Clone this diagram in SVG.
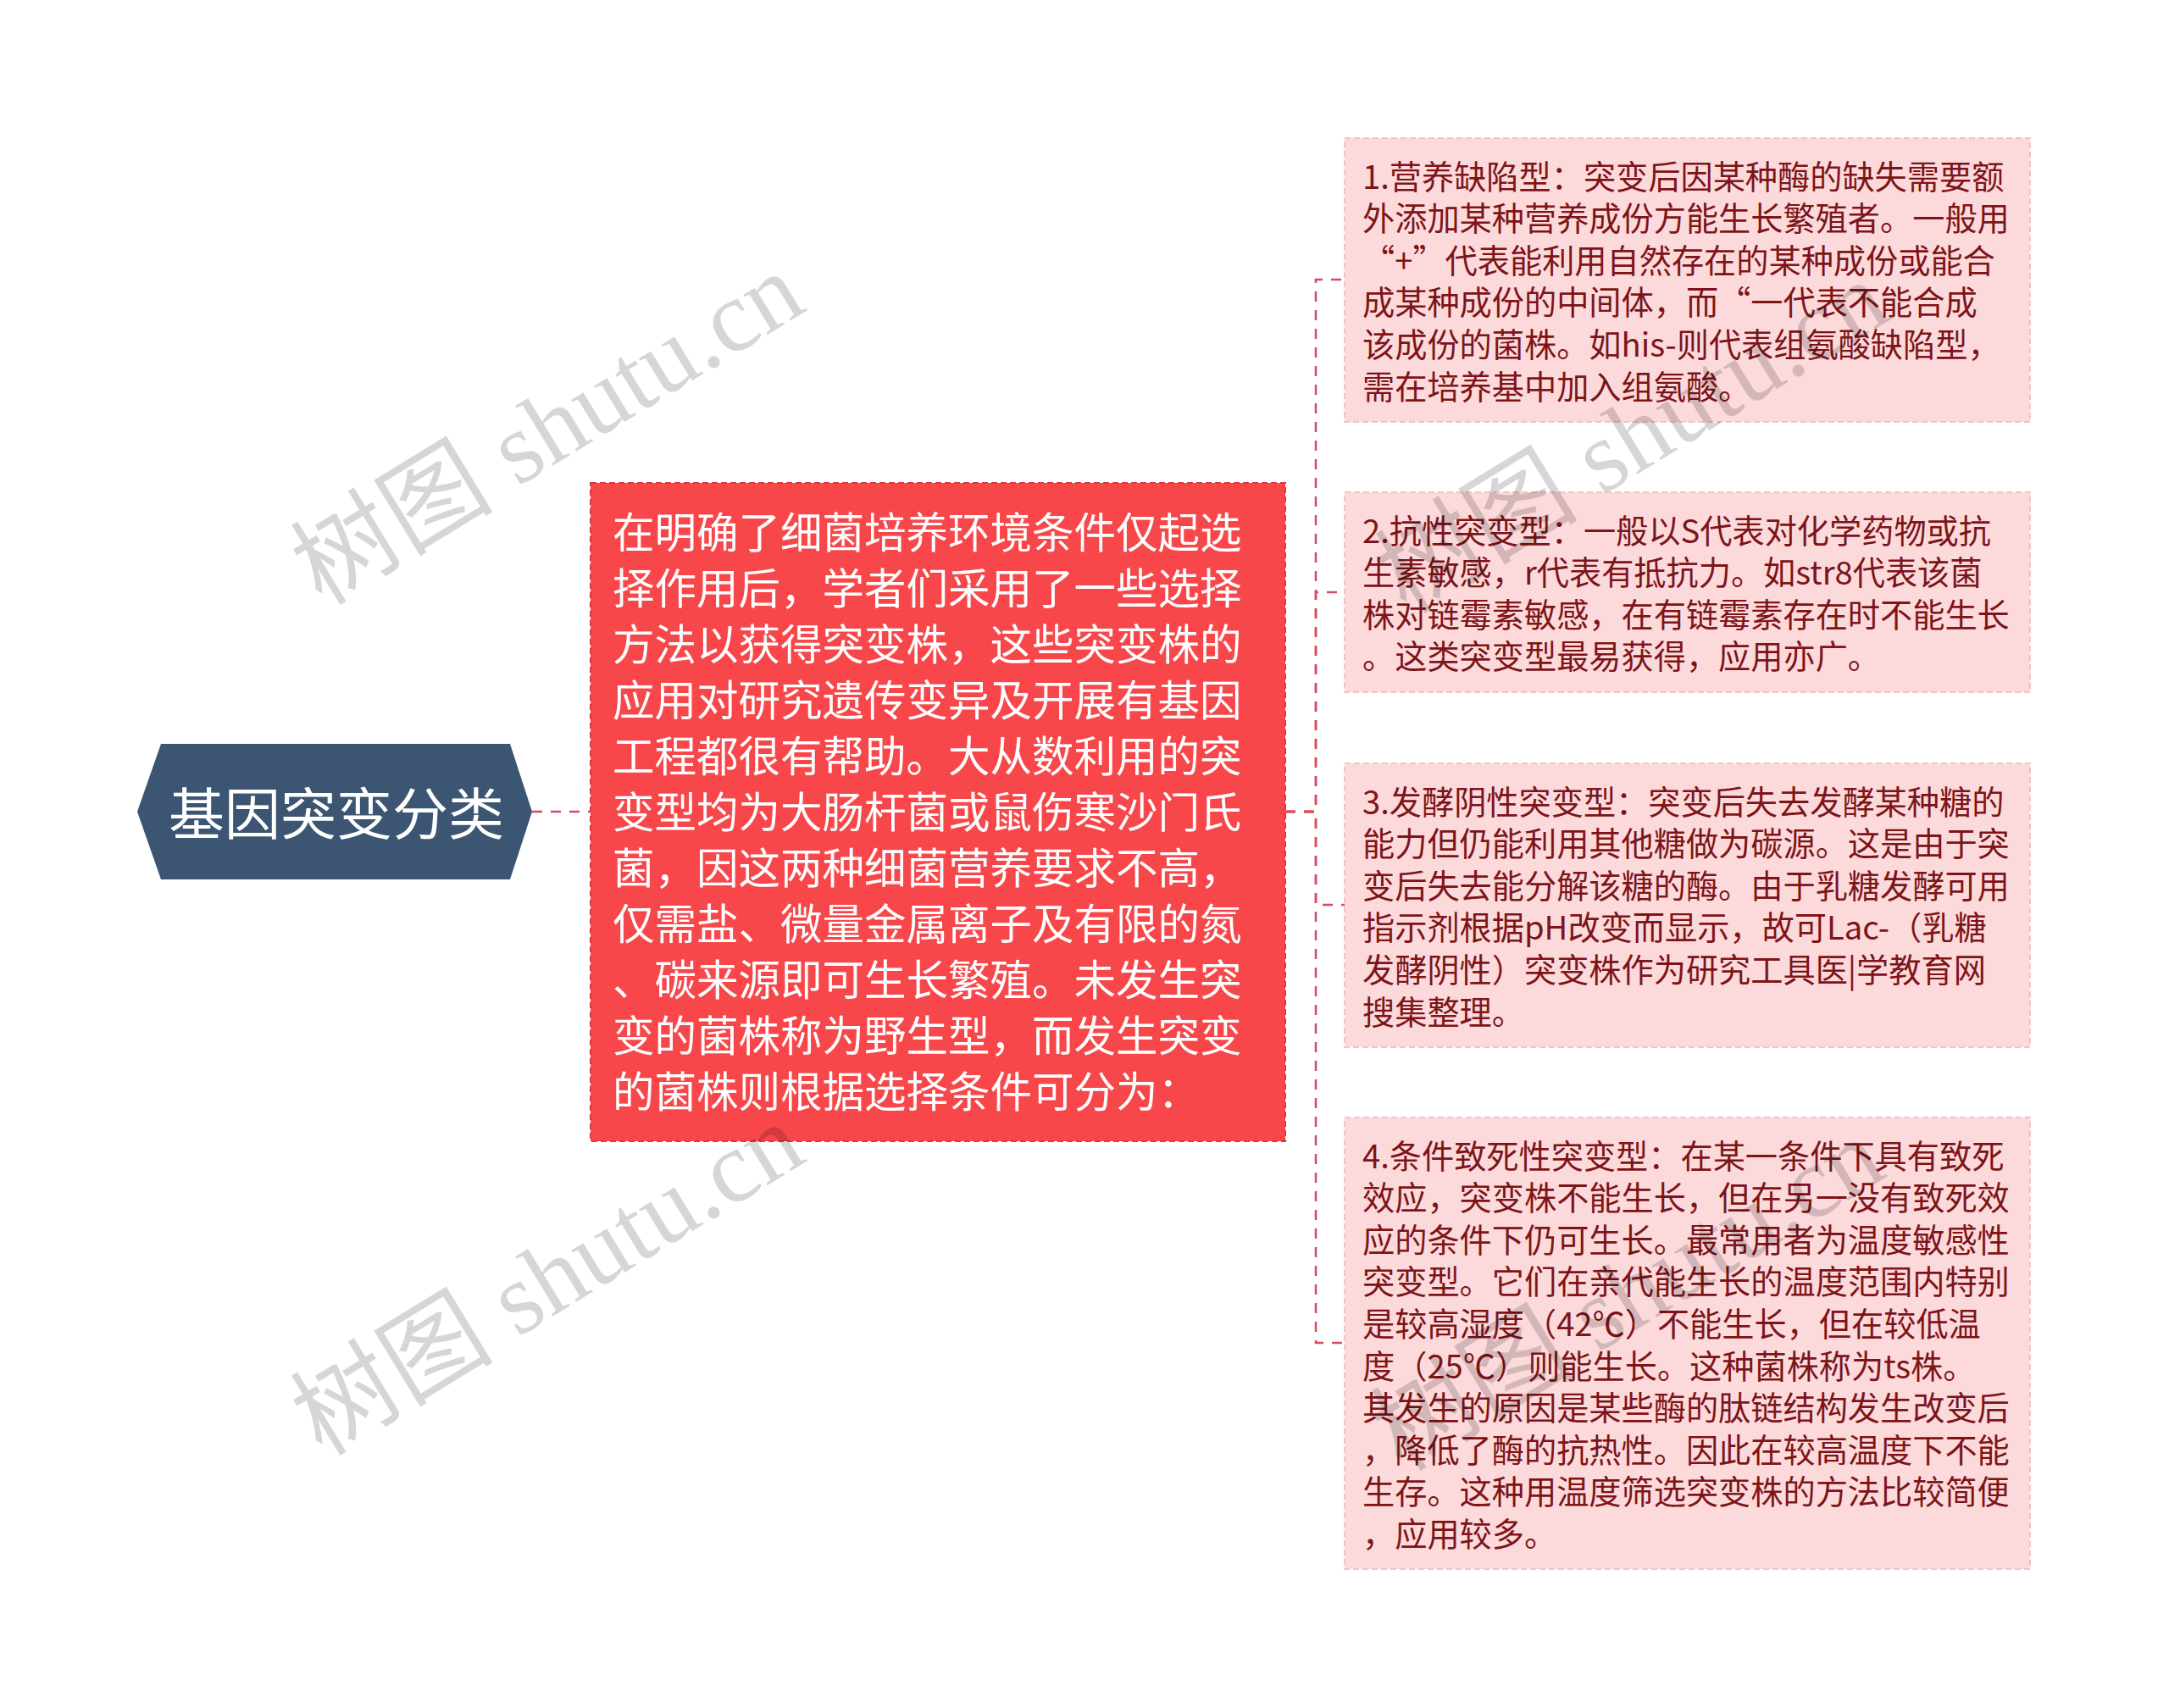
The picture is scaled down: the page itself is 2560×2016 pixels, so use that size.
<svg xmlns="http://www.w3.org/2000/svg" width="2560" height="2016" viewBox="0 0 2560 2016">
<style>
.bg{fill:#ffffff}
.conn{fill:none;stroke:#d9495b;stroke-width:2.5;stroke-dasharray:12 10}
.root{fill:#3b5572}
.roottxt{font-family:"Noto Sans CJK SC","Noto Sans",sans-serif;font-size:66px;fill:#ffffff}
.mid{fill:#f7474a;stroke:#e0393d;stroke-width:2;stroke-dasharray:7 4}
.midtxt{font-family:"Noto Sans CJK SC","Noto Sans",sans-serif;font-size:49.5px;fill:#ffffff}
.leaf{fill:#fcdadc;stroke:#f3c3c6;stroke-width:2;stroke-dasharray:7 4}
.leaftxt{font-family:"Noto Sans CJK SC","Noto Sans",sans-serif;font-size:38.2px;fill:#7e1418}
.wm{font-family:"Liberation Serif","Noto Sans CJK SC",serif;font-size:120px;fill:#000000;fill-opacity:0.16}
</style>
<rect class="bg" x="0" y="0" width="2560" height="2016"/>
<g id="connectors">
<path class="conn" d="M628 958 L697 958"/>
<path class="conn" d="M1517 958 L1553 958 L1553 330 L1587 330"/>
<path class="conn" d="M1517 958 L1553 958 L1553 699 L1587 699"/>
<path class="conn" d="M1517 958 L1553 958 L1553 1068 L1587 1068"/>
<path class="conn" d="M1517 958 L1553 958 L1553 1585 L1587 1585"/>
</g>
<g id="root">
<polygon class="root" points="162,958 190,878 602,878 628,958 602,1038 190,1038"/>
<text class="roottxt" x="397" y="985" text-anchor="middle">基因突变分类</text>
</g>
<g id="middle">
<rect class="mid" x="697" y="570" width="820" height="777"/>
<text class="midtxt">
<tspan x="723" y="647">在明确了细菌培养环境条件仅起选</tspan>
<tspan x="723" y="713">择作用后，学者们采用了一些选择</tspan>
<tspan x="723" y="779">方法以获得突变株，这些突变株的</tspan>
<tspan x="723" y="845">应用对研究遗传变异及开展有基因</tspan>
<tspan x="723" y="911">工程都很有帮助。大从数利用的突</tspan>
<tspan x="723" y="977">变型均为大肠杆菌或鼠伤寒沙门氏</tspan>
<tspan x="723" y="1043">菌，因这两种细菌营养要求不高，</tspan>
<tspan x="723" y="1109">仅需盐、微量金属离子及有限的氮</tspan>
<tspan x="723" y="1175">、碳来源即可生长繁殖。未发生突</tspan>
<tspan x="723" y="1241">变的菌株称为野生型，而发生突变</tspan>
<tspan x="723" y="1307">的菌株则根据选择条件可分为：</tspan>
</text>
</g>
<g id="leaf1">
<rect class="leaf" x="1587" y="163" width="809" height="335"/>
<text class="leaftxt">
<tspan x="1608" y="222.5">1.营养缺陷型：突变后因某种酶的缺失需要额</tspan>
<tspan x="1608" y="272.1">外添加某种营养成份方能生长繁殖者。一般用</tspan>
<tspan x="1608" y="321.7">“+”代表能利用自然存在的某种成份或能合</tspan>
<tspan x="1608" y="371.3">成某种成份的中间体，而“一代表不能合成</tspan>
<tspan x="1608" y="420.9">该成份的菌株。如his-则代表组氨酸缺陷型，</tspan>
<tspan x="1608" y="470.5">需在培养基中加入组氨酸。</tspan>
</text>
</g>
<g id="leaf2">
<rect class="leaf" x="1587" y="581" width="809" height="236"/>
<text class="leaftxt">
<tspan x="1608" y="640.5">2.抗性突变型：一般以S代表对化学药物或抗</tspan>
<tspan x="1608" y="690.1">生素敏感，r代表有抵抗力。如str8代表该菌</tspan>
<tspan x="1608" y="739.7">株对链霉素敏感，在有链霉素存在时不能生长</tspan>
<tspan x="1608" y="789.3">。这类突变型最易获得，应用亦广。</tspan>
</text>
</g>
<g id="leaf3">
<rect class="leaf" x="1587" y="901" width="809" height="335"/>
<text class="leaftxt">
<tspan x="1608" y="960.5">3.发酵阴性突变型：突变后失去发酵某种糖的</tspan>
<tspan x="1608" y="1010.1">能力但仍能利用其他糖做为碳源。这是由于突</tspan>
<tspan x="1608" y="1059.7">变后失去能分解该糖的酶。由于乳糖发酵可用</tspan>
<tspan x="1608" y="1109.3">指示剂根据pH改变而显示，故可Lac-（乳糖</tspan>
<tspan x="1608" y="1158.9">发酵阴性）突变株作为研究工具医|学教育网</tspan>
<tspan x="1608" y="1208.5">搜集整理。</tspan>
</text>
</g>
<g id="leaf4">
<rect class="leaf" x="1587" y="1319" width="809" height="533"/>
<text class="leaftxt">
<tspan x="1608" y="1378.5">4.条件致死性突变型：在某一条件下具有致死</tspan>
<tspan x="1608" y="1428.1">效应，突变株不能生长，但在另一没有致死效</tspan>
<tspan x="1608" y="1477.7">应的条件下仍可生长。最常用者为温度敏感性</tspan>
<tspan x="1608" y="1527.3">突变型。它们在亲代能生长的温度范围内特别</tspan>
<tspan x="1608" y="1576.9">是较高湿度（42℃）不能生长，但在较低温</tspan>
<tspan x="1608" y="1626.5">度（25℃）则能生长。这种菌株称为ts株。</tspan>
<tspan x="1608" y="1676.1">其发生的原因是某些酶的肽链结构发生改变后</tspan>
<tspan x="1608" y="1725.7">，降低了酶的抗热性。因此在较高温度下不能</tspan>
<tspan x="1608" y="1775.3">生存。这种用温度筛选突变株的方法比较简便</tspan>
<tspan x="1608" y="1824.9">，应用较多。</tspan>
</text>
</g>
<g id="watermarks">
<text class="wm" x="0" y="0" transform="translate(380,716) rotate(-31.4)">树图 shutu.cn</text>
<text class="wm" x="0" y="0" transform="translate(380,1720) rotate(-31.4)">树图 shutu.cn</text>
<text class="wm" x="0" y="0" transform="translate(1660,726) rotate(-31.4)">树图 shutu.cn</text>
<text class="wm" x="0" y="0" transform="translate(1655,1738) rotate(-31.4)">树图 shutu.cn</text>
</g>
</svg>
